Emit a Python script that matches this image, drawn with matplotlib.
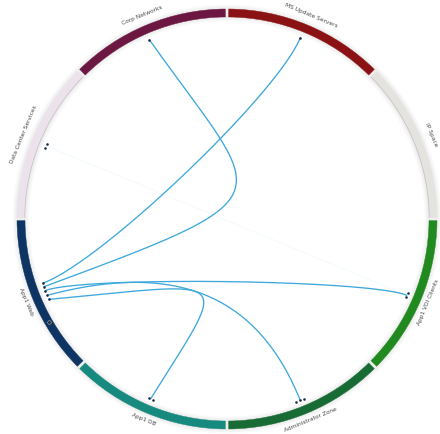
import numpy as np
import matplotlib
matplotlib.use("Agg")
import matplotlib.pyplot as plt
from matplotlib.patches import Wedge

# ring segments, counter-clockwise from 3 o'clock
segments = ["IP Space", "MS Update Servers", "Corp Networks", "Data Center Services",
            "App1 Web", "App1 DB", "Administrator Zone", "App1 VDI Clients"]
seg_colors = ["#e5e3e0", "#8b1214", "#6b1742", "#ebe2eb",
              "#0d3462", "#17897f", "#186b35", "#20891f"]

# connections out of App1 Web (source slot angle, target, target angle, dots at target)
edge_targets = ["MS Update Servers", "Corp Networks", "App1 VDI Clients",
                "Administrator Zone", "App1 DB"]
source_angles = [-160.8, -159.7, -158.5, -157.0, -155.7]
target_angles = [68.0, 113.4, -23.0, -68.0, -113.0]
target_dots = [1, 1, 2, 3, 2]

# curve shape: control arm lengths (fraction of radius) and tangent twist (deg)
arm_src = [0.29, 1.29, 0.19, 0.68, 0.9]
twist_src = [0, 0, 0, -8, -19]
arm_tgt = [0.29, 0.95, 0.19, 0.5, 0.72]
twist_tgt = [0, 11.8, 0, 0, -9]

# faint link out of Data Center Services
faint_src, faint_tgt = 158.0, -23.0

R_DOT = 0.93
EDGE = "#3da8dc"
DOT = "#1c2b4b"


def pol(ang, r):
    a = np.radians(ang)
    return np.array([r * np.cos(a), r * np.sin(a)])


def chord(a0, a1, l0, l1, tw0=0, tw1=0, n=200):
    p0 = pol(a0, R_DOT)
    p3 = pol(a1, R_DOT)
    p1 = p0 + pol(a0 + 180 + tw0, l0)
    p2 = p3 + pol(a1 + 180 + tw1, l1)
    t = np.linspace(0, 1, n)[:, None]
    b = ((1 - t) ** 3) * p0 + 3 * ((1 - t) ** 2) * t * p1 + 3 * (1 - t) * t ** 2 * p2 + t ** 3 * p3
    return b[:, 0], b[:, 1]


fig = plt.figure(figsize=(4.4, 4.34), dpi=100)
ax = fig.add_axes([0, 0, 1, 1])
ax.set_xlim(-227 / 210, 213 / 210)
ax.set_ylim(-215 / 210, 219 / 210)
ax.set_aspect("equal")
ax.axis("off")

# soft shadow round the ring
for k, al in enumerate([0.04, 0.05, 0.06]):
    ax.add_patch(Wedge((0, 0), 1.0 + 0.007 * (3 - k), 0, 360,
                       width=0.038 + 0.014 * (3 - k), color="#888888", alpha=al, lw=0))

step = 360 / len(segments)
for i, (name, col) in enumerate(zip(segments, seg_colors)):
    a0 = i * step
    a1 = a0 + step
    ax.add_patch(Wedge((0, 0), 1.0, a0 + 0.45, a1 - 0.45, width=0.038,
                       facecolor=col, edgecolor=col, lw=0.3, zorder=2))
    mid = (a0 + a1) / 2
    if mid < 180:
        rot, rl = mid - 90, 1.05
    else:
        rot, rl = mid + 90, 1.036
    x, y = pol(mid, rl)
    ax.text(x, y, name, rotation=rot, rotation_mode="anchor", ha="center", va="center",
            fontsize=4.2, color="#4a4a4a", zorder=3)

# thin grey inner edge on the pale segments
for i in (0, 3):
    th = np.radians(np.linspace(i * step + 0.5, (i + 1) * step - 0.5, 100))
    ax.plot(0.963 * np.cos(th), 0.963 * np.sin(th), color="#c4c0c4", lw=0.5, zorder=2)

# faint link
fx, fy = chord(faint_src, faint_tgt, 0.2, 0.2)
ax.plot(fx, fy, color=EDGE, lw=0.7, alpha=0.06, zorder=4)

for i in range(len(edge_targets)):
    x, y = chord(source_angles[i], target_angles[i], arm_src[i], arm_tgt[i],
                 twist_src[i], twist_tgt[i])
    ax.plot(x, y, color=EDGE, lw=0.95, zorder=4, solid_capstyle="round")

# endpoint dots
sx = [pol(a, R_DOT)[0] for a in source_angles]
sy = [pol(a, R_DOT)[1] for a in source_angles]
ax.scatter(sx, sy, s=3.5, color=DOT, zorder=5, lw=0)
for a, n in zip(target_angles + [faint_src], target_dots + [2]):
    offs = (np.arange(n) - (n - 1) / 2) * 1.2
    pts = np.array([pol(a + o, R_DOT) for o in offs])
    ax.scatter(pts[:, 0], pts[:, 1], s=3.5, color=DOT, zorder=5, lw=0)

# small icon on the App1 Web arc
ix, iy = pol(-150, 0.98)
ax.scatter([ix], [iy], marker="D", s=6, color="#2a2f3a", edgecolor="#9aa0aa", lw=0.4, zorder=6)

fig.savefig("out.png", dpi=100, facecolor="white")
